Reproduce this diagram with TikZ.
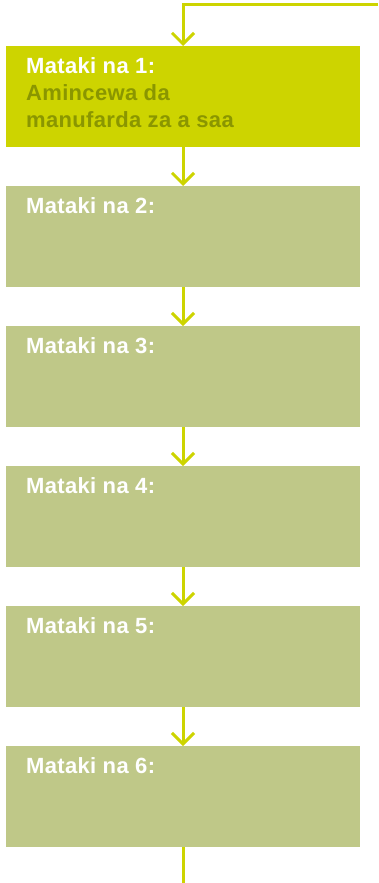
\documentclass[tikz,border=0pt]{standalone}
\usepackage{fontspec}
\newfontfamily\stepfont[LetterSpace=1.5]{Liberation Sans}
\usetikzlibrary{positioning,arrows.meta}
\definecolor{lime}{RGB}{205,212,0}
\definecolor{sage}{RGB}{191,200,136}
\definecolor{olive}{RGB}{138,150,0}

\begin{document}
\begin{tikzpicture}[x=1pt,y=1pt,
  node distance=39pt,
  stepbox/.style={draw=none,fill=sage,minimum width=354pt,
   minimum height=101pt,inner sep=0pt,outer sep=0pt},
  steptext/.style={anchor=north west,inner sep=0pt,align=left,
   font=\stepfont\fontsize{22}{27}\selectfont\bfseries,text=white},
  link/.style={lime,line width=3pt,
   -{Straight Barb[length=11pt,width=22pt]}}]
 \useasboundingbox (0,0) rectangle (378,-883);
 \node[stepbox,fill=lime,anchor=north] (s1) at (183,-46) {};
 \node[steptext] (t1) at ([xshift=20pt,yshift=-11pt]s1.north west)
  {Mataki na 1:\\\textcolor{olive}{Amincewa da}\\
   \textcolor{olive}{manufarda za a saa}};
 \foreach \i [remember=\i as \j (initially 1)] in {2,...,6}{
  \node[stepbox,below=of s\j] (s\i) {};
  \node[steptext] (t\i) at ([xshift=20pt,yshift=-11pt]s\i.north west)
   {Mataki na \i:};
  \draw[link] (s\j) -- (s\i);
 }
 \coordinate (feed) at (378,-4.5);
 \coordinate (end) at (183,-883);
 \draw[link] (feed) -| (s1);
 \draw[lime,line width=3pt] (s6) -- (end);
\end{tikzpicture}
\end{document}
